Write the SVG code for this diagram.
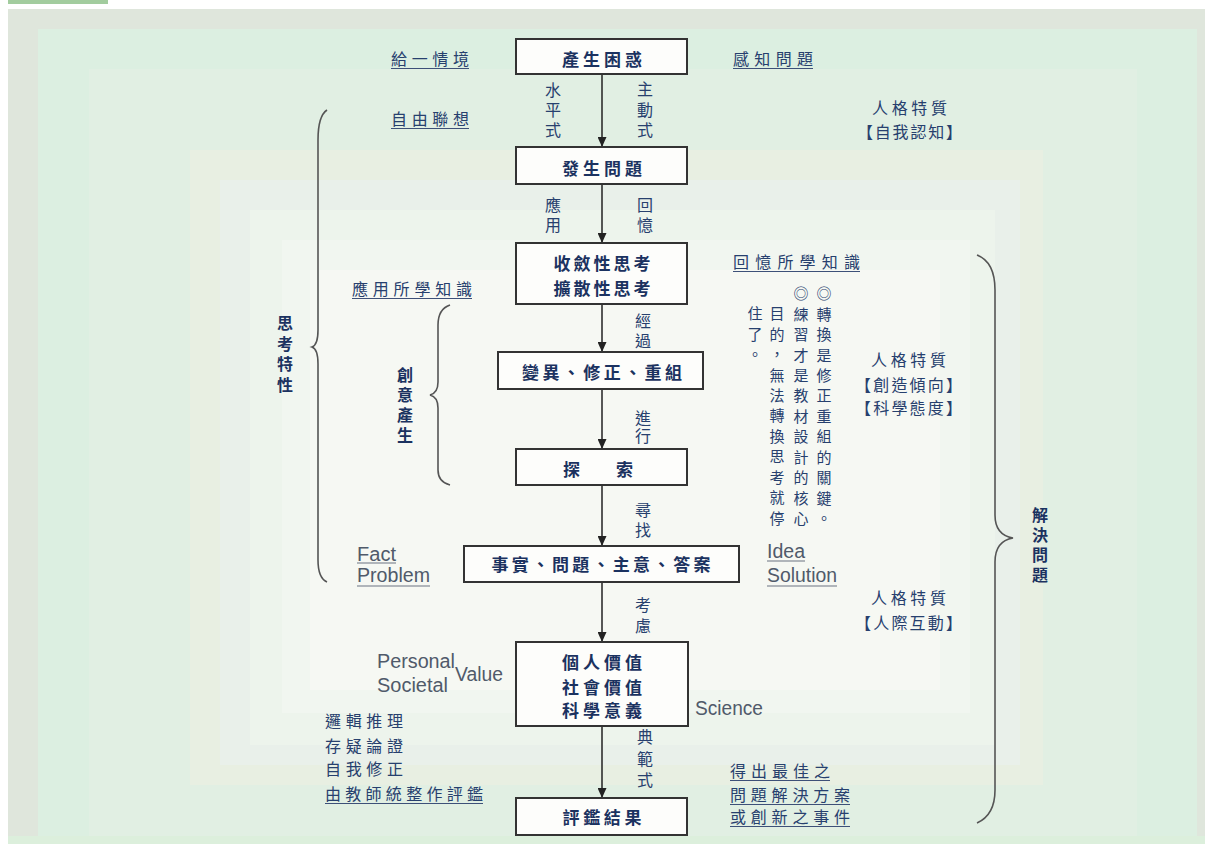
<svg xmlns="http://www.w3.org/2000/svg" width="1213" height="844" viewBox="0 0 1213 844">
<style>
.b{font-family:"Noto Sans CJK TC","Noto Sans CJK SC",sans-serif;font-size:17px;font-weight:700;fill:#1b3260}
.l{font-family:"Noto Sans CJK TC","Noto Sans CJK SC",sans-serif;font-size:16px;fill:#27406e}
.v{font-family:"Noto Sans CJK TC","Noto Sans CJK SC",sans-serif;font-size:16px;fill:#27406e;writing-mode:vertical-rl}
.vb{font-family:"Noto Sans CJK TC","Noto Sans CJK SC",sans-serif;font-size:16px;font-weight:700;fill:#1b3260;writing-mode:vertical-rl}
.vn{font-family:"Noto Sans CJK TC","Noto Sans CJK SC",sans-serif;font-size:15px;fill:#27406e;writing-mode:vertical-rl;letter-spacing:5.45px}
.e{font-family:"Liberation Sans",Arial,sans-serif;font-size:19.5px;fill:#505a6a}
.box{fill:#fdfdfb;stroke:#333;stroke-width:2}
.ul{stroke:#3d5078;stroke-width:1.2}
.eul{stroke:#6a7282;stroke-width:1.2}
.brace{fill:none;stroke:#555;stroke-width:1.6}
.conn line{stroke:#222;stroke-width:1.5}
</style>
<defs>
<marker id="ah" markerUnits="userSpaceOnUse" markerWidth="10" markerHeight="9" refX="10" refY="4.5" orient="auto">
<path d="M0,0 L10,4.5 L0,9 z" fill="#222"/>
</marker>
</defs>
<g id="background">
<rect x="0" y="0" width="1213" height="844" fill="#ffffff"/>
<rect x="8" y="0" width="100" height="4" fill="#a2cc9e"/>
<rect x="8" y="9" width="1197" height="827" fill="#dfe6dc"/>
<rect x="8" y="836" width="1197" height="8" fill="#dcefdc"/>
<rect x="38" y="29" width="1159" height="807" fill="#dcefe1"/>
<rect x="89" y="69" width="1048" height="767" fill="#e1efe3"/>
<rect x="190" y="150" width="853" height="635" fill="#e8efe2"/>
<rect x="220" y="180" width="800" height="585" fill="#e9f0ea"/>
<rect x="250" y="210" width="745" height="535" fill="#edf4ec"/>
<rect x="282" y="240" width="688" height="473" fill="#f1f6f0"/>
<rect x="310" y="270" width="630" height="420" fill="#f6f8f3"/>
</g>
<g id="connectors" class="conn">
<line x1="602" y1="74" x2="602" y2="147" marker-end="url(#ah)"/>
<line x1="602" y1="184" x2="602" y2="243" marker-end="url(#ah)"/>
<line x1="602" y1="304" x2="602" y2="352" marker-end="url(#ah)"/>
<line x1="602" y1="389" x2="602" y2="449" marker-end="url(#ah)"/>
<line x1="602" y1="485" x2="602" y2="546" marker-end="url(#ah)"/>
<line x1="602" y1="582" x2="602" y2="642" marker-end="url(#ah)"/>
<line x1="602" y1="726" x2="602" y2="798" marker-end="url(#ah)"/>
</g>
<g id="node-confusion">
<rect class="box" x="516" y="39" width="171" height="35"/>
<text class="b" x="602" y="66" text-anchor="middle" textLength="80" lengthAdjust="spacing">產生困惑</text>
</g>
<g id="node-problem">
<rect class="box" x="516" y="147" width="171" height="37"/>
<text class="b" x="602" y="175" text-anchor="middle" textLength="80" lengthAdjust="spacing">發生問題</text>
</g>
<g id="node-thinking">
<rect class="box" x="516" y="243" width="171" height="61"/>
<text class="b" x="602" y="270" text-anchor="middle" textLength="97" lengthAdjust="spacing">收斂性思考</text>
<text class="b" x="602" y="295" text-anchor="middle" textLength="97" lengthAdjust="spacing">擴散性思考</text>
</g>
<g id="node-modify">
<rect class="box" x="498" y="352" width="205" height="37"/>
<text class="b" x="602" y="379" text-anchor="middle" textLength="160" lengthAdjust="spacing">變異、修正、重組</text>
</g>
<g id="node-explore">
<rect class="box" x="516" y="449" width="171" height="36"/>
<text class="b" x="598" y="476" text-anchor="middle" textLength="70" lengthAdjust="spacing">探　　索</text>
</g>
<g id="node-facts">
<rect class="box" x="464" y="546" width="275" height="36"/>
<text class="b" x="601" y="571" text-anchor="middle" textLength="219" lengthAdjust="spacing">事實、問題、主意、答案</text>
</g>
<g id="node-values">
<rect class="box" x="516" y="642" width="172" height="84"/>
<text class="b" x="602" y="669" text-anchor="middle" textLength="80" lengthAdjust="spacing">個人價值</text>
<text class="b" x="602" y="694" text-anchor="middle" textLength="80" lengthAdjust="spacing">社會價值</text>
<text class="b" x="602" y="717" text-anchor="middle" textLength="80" lengthAdjust="spacing">科學意義</text>
</g>
<g id="node-evaluate">
<rect class="box" x="516" y="798" width="171" height="37"/>
<text class="b" x="602" y="824" text-anchor="middle" textLength="79" lengthAdjust="spacing">評鑑結果</text>
</g>
<g id="braces">
<path class="brace" d="M327,110 Q318,116 318,140 L318,330 Q318,345 312,347 Q318,349 318,364 L318,560 Q318,578 327,582"/>
<path class="brace" d="M450,305 Q438,309 438,325 L438,382 Q438,393 430,395 Q438,397 438,408 L438,470 Q438,482 450,485"/>
<path class="brace" d="M977,255 Q995,262 995,290 L995,515 Q995,535 1013,538 Q995,541 995,562 L995,790 Q995,815 977,823"/>
</g>
<g id="edge-labels">
<text class="v" x="553" y="82" style="letter-spacing:4px">水平式</text>
<text class="v" x="645" y="81" style="letter-spacing:4.5px">主動式</text>
<text class="v" x="553" y="197" style="letter-spacing:4px">應用</text>
<text class="v" x="645" y="197" style="letter-spacing:4px">回憶</text>
<text class="v" x="643" y="313" style="letter-spacing:4px">經過</text>
<text class="v" x="643" y="410" style="letter-spacing:2px">進行</text>
<text class="v" x="643" y="502" style="letter-spacing:4px">尋找</text>
<text class="v" x="643" y="597" style="letter-spacing:5px">考慮</text>
<text class="v" x="645" y="729" style="letter-spacing:5.5px">典範式</text>
</g>
<g id="side-labels">
<text class="l" x="391" y="65" textLength="78" lengthAdjust="spacing">給一情境</text>
<line class="ul" x1="391" y1="68.5" x2="469" y2="68.5"/>
<text class="l" x="733" y="65" textLength="80" lengthAdjust="spacing">感知問題</text>
<line class="ul" x1="733" y1="68.5" x2="813" y2="68.5"/>
<text class="l" x="391" y="125" textLength="78" lengthAdjust="spacing">自由聯想</text>
<line class="ul" x1="391" y1="128.5" x2="469" y2="128.5"/>
<text class="l" x="872" y="114" textLength="75" lengthAdjust="spacing">人格特質</text>
<text class="l" x="857" y="138" textLength="105" lengthAdjust="spacing">【自我認知】</text>
<text class="l" x="733" y="268" textLength="127" lengthAdjust="spacing">回憶所學知識</text>
<line class="ul" x1="733" y1="271.5" x2="860" y2="271.5"/>
<text class="l" x="352" y="295" textLength="120" lengthAdjust="spacing">應用所學知識</text>
<line class="ul" x1="352" y1="298.5" x2="472" y2="298.5"/>
<text class="l" x="871" y="366" textLength="75" lengthAdjust="spacing">人格特質</text>
<text class="l" x="855" y="391" textLength="107" lengthAdjust="spacing">【創造傾向】</text>
<text class="l" x="855" y="414" textLength="107" lengthAdjust="spacing">【科學態度】</text>
<text class="l" x="871" y="604" textLength="75" lengthAdjust="spacing">人格特質</text>
<text class="l" x="855" y="629" textLength="107" lengthAdjust="spacing">【人際互動】</text>
<text class="l" x="325" y="727" textLength="78" lengthAdjust="spacing">邏輯推理</text>
<text class="l" x="325" y="752" textLength="78" lengthAdjust="spacing">存疑論證</text>
<text class="l" x="325" y="775" textLength="78" lengthAdjust="spacing">自我修正</text>
<text class="l" x="325" y="800" textLength="158" lengthAdjust="spacing">由教師統整作評鑑</text>
<line class="ul" x1="325" y1="803.5" x2="483" y2="803.5"/>
<text class="l" x="730" y="777" textLength="100" lengthAdjust="spacing">得出最佳之</text>
<line class="ul" x1="730" y1="780.5" x2="830" y2="780.5"/>
<text class="l" x="730" y="801" textLength="120" lengthAdjust="spacing">問題解決方案</text>
<line class="ul" x1="730" y1="804.5" x2="850" y2="804.5"/>
<text class="l" x="730" y="823" textLength="120" lengthAdjust="spacing">或創新之事件</text>
<line class="ul" x1="730" y1="826.5" x2="850" y2="826.5"/>
</g>
<g id="brace-labels">
<text class="vb" x="285" y="315" style="letter-spacing:4.7px">思考特性</text>
<text class="vb" x="405" y="367" style="letter-spacing:4px">創意產生</text>
<text class="vb" x="1040" y="507" style="letter-spacing:4px">解決問題</text>
</g>
<g id="note">
<text class="vn" x="824" y="286">◎轉換是修正重組的關鍵。</text>
<text class="vn" x="801" y="286">◎練習才是教材設計的核心</text>
<text class="vn" x="777" y="306">目的，無法轉換思考就停</text>
<text class="vn" x="755" y="306">住了。</text>
</g>
<g id="english-labels">
<text class="e" x="357" y="561" textLength="39" lengthAdjust="spacingAndGlyphs">Fact</text>
<line class="eul" x1="357" y1="563" x2="396" y2="563"/>
<text class="e" x="357" y="582" textLength="73" lengthAdjust="spacingAndGlyphs">Problem</text>
<line class="eul" x1="357" y1="586" x2="430" y2="586"/>
<text class="e" x="767" y="558" textLength="38" lengthAdjust="spacingAndGlyphs">Idea</text>
<line class="eul" x1="767" y1="561" x2="805" y2="561"/>
<text class="e" x="767" y="582" textLength="70" lengthAdjust="spacingAndGlyphs">Solution</text>
<line class="eul" x1="767" y1="586" x2="837" y2="586"/>
<text class="e" x="377" y="668" textLength="78" lengthAdjust="spacingAndGlyphs">Personal</text>
<text class="e" x="377" y="692" textLength="71" lengthAdjust="spacingAndGlyphs">Societal</text>
<text class="e" x="455" y="681" textLength="48" lengthAdjust="spacingAndGlyphs">Value</text>
<text class="e" x="695" y="715" textLength="68" lengthAdjust="spacingAndGlyphs">Science</text>
</g>
</svg>
